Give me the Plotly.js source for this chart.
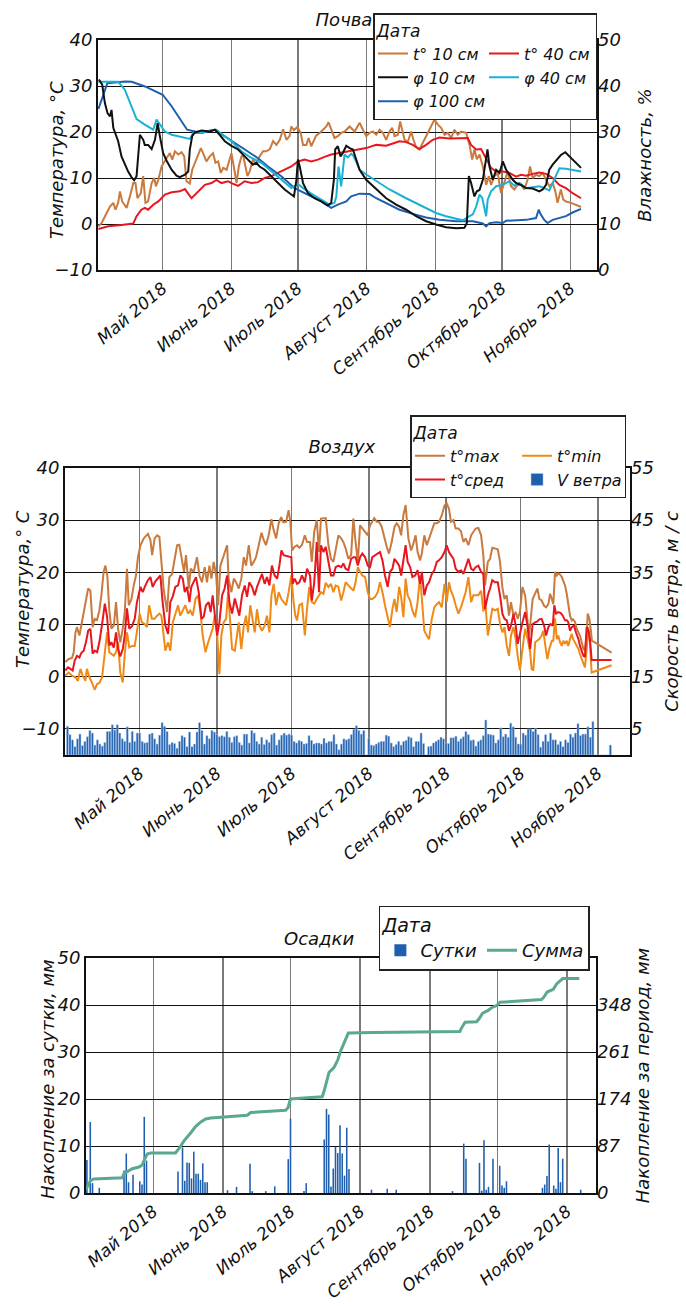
<!DOCTYPE html>
<html><head><meta charset="utf-8">
<script src="https://cdn.plot.ly/plotly-3.0.1.min.js"></script>
<style>
html,body{margin:0;padding:0;background:#fff;}
#wrap{position:relative;width:686px;height:1306px;overflow:hidden;background:#fff;}
.chart{position:absolute;left:0;width:686px;}
</style></head><body>
<div id="wrap">
<div id="soil" class="chart" style="top:0;height:400px"></div>
<div id="air" class="chart" style="top:400px;height:480px"></div>
<div id="rain" class="chart" style="top:880px;height:426px"></div>
</div>
<script>
// ---------- shared ----------
const SEASON_START = '2018-04-01';            // day 0 of all day arrays
const monthStarts = ['2018-05-01','2018-06-01','2018-07-01','2018-08-01','2018-09-01','2018-10-01','2018-11-01'];
const monthLabels = ['Май 2018','Июнь 2018','Июль 2018','Август 2018','Сентябрь 2018','Октябрь 2018','Ноябрь 2018'];

// ---------- Почва (soil) ----------
const soilT10Days = [1,2.4,4.7,6.2,7.7,8.7,9.9,10.7,11.7,13.7,15.2,16.7,17.7,18.6,20.1,21.2,22.2,23.4,25,26.2,26.9,28,29.5,30.7,31.7,33.2,34.3,35.5,37,38.5,39.7,40.7,42.2,43.3,44.5,46,47.2,48.2,49.7,51.2,52.7,53.8,55,56.2,57.3,58.8,60.3,61,62.3,63.3,64.3,65.5,66.2,67.3,68.2,69.2,70.7,72.2,73.7,75.2,76.7,78.3,79.8,81.3,82.8,84.3,85.8,87.2,88,89.2,90.7,92.2,93.3,94.8,95.8,97,98.2,99.2,100.8,102.3,103.8,104.8,106,107.5,109,110.5,112.1,114.3,116.6,118.8,120.3,121.8,123.3,124.8,126.3,127.8,129.3,130.8,132.3,133.5,134.6,136.1,137.1,138,139.1,140.6,142.1,143.1,144.3,145.8,147.3,148.8,150.3,151.8,152.6,154.1,155.6,157.1,158.6,160.1,161.6,163.1,164.6,166.9,168.4,169.6,170.6,171.7,172.9,174.4,175.9,177.1,178.1,179.6,181.1,182.6,184.1,185.6,187.1,188.6,190.1,191.6,193.1,194.6,195.7,196.9,198.4,199.9,201.4,202.9,204.4,205.9,207.1,208.1,209.6,210.7,211.9,214.2,216.4,218.7];
const soilT10 = [-0.5,0.2,2.4,3.8,4.6,3.1,4.6,7.1,4.9,3.5,6.0,8.9,8.9,5.6,6.7,10.4,4.6,4.9,8.9,10.0,8.2,9.6,12.5,13.6,14.3,15.4,14.0,15.8,15.1,15.6,14.7,9.3,8.8,11.8,13.3,15.4,16.5,15.4,13.6,14.7,15.4,13.3,13.6,11.1,12.2,11.8,14.0,15.4,11.8,8.9,12.5,14.7,15.1,12.5,10.4,11.4,14.0,12.9,14.7,15.8,15.8,16.3,18.0,17.2,18.3,20.6,18.3,19.1,21.2,20.4,21.1,19.8,17.2,17.2,18.7,16.9,18.3,19.2,19.8,20.5,21.2,22.1,20.5,18.7,19.1,19.8,20.1,21.2,20.1,22.0,20.5,19.1,19.8,20.1,19.4,20.5,19.8,18.3,20.1,20.9,19.1,19.4,22.3,20.5,18.3,17.9,20.1,18.3,16.7,16.2,17.6,19.1,20.5,22.0,22.7,21.6,20.9,19.4,19.8,18.7,20.5,19.4,20.1,19.8,17.2,14.0,16.2,14.1,15.1,12.5,8.5,10.4,8.5,10.4,11.1,6.7,9.3,11.4,8.2,7.5,8.5,8.5,7.5,9.6,12.5,10.0,10.7,10.4,11.1,9.6,8.2,8.9,7.1,4.6,7.5,5.3,4.9,4.6,4.2,3.7];

const soilT40Days = [1,5.4,11.4,16.7,18.2,20.4,21.9,23.4,25.7,28,31,34,37.7,40,43,46,49,52,54.2,56.5,59.5,61,64,67,70,73,76,79,82,85,88,91,94,97,100,103,106,109,114.3,118.8,121.8,126.3,130.8,133.8,136.8,139.8,142.8,145.8,148.8,151.8,154.8,159.3,163.9,167.6,169.1,171.4,173.6,175.9,178.1,180.4,183.4,186.4,189.4,191.6,193.9,196.9,199.9,202.9,205.9,208.9,211.9,214.9,218.7];
const soilT40 = [-1.1,-0.5,-0.2,0.1,1.7,3.1,3.5,3.1,4.2,4.9,6.4,6.9,7.1,7.6,5.6,7.1,8.5,8.9,9.6,8.9,9.3,8.9,8.3,9.3,8.9,9.1,10.0,10.4,11.1,11.9,12.5,13.6,14.0,13.6,14.0,14.6,15.1,15.4,15.8,16.3,16.5,17.2,17.0,17.5,18.0,17.8,17.2,16.3,17.2,18.3,18.8,18.6,18.7,18.7,17.2,16.2,16.3,14.3,12.2,11.4,11.4,11.1,10.3,10.7,10.5,10.9,11.2,10.9,10.0,8.5,7.8,6.7,5.6];

const soilPhi10Days = [1.2,2.7,3.9,5.1,6.2,6.9,7.7,8.4,9.9,11.4,12.9,14.4,15.9,17.1,18.2,18.9,19.7,21.2,21.9,23.4,25,26.5,27.7,28.7,30.2,31.7,34,36.2,37.7,40,41.5,42.2,43.3,44.5,47.5,51.2,53.5,55.7,58,61,64,67,69.2,70.7,72.2,73.7,76,79,82,85,88,89.2,90.3,91,91.8,93.3,95.5,98.5,101.5,104.5,106,107.2,107.8,109,110.2,111.3,112.8,114.3,115.8,117.3,118.8,121.8,126.3,130.8,135.3,139.8,144.3,148.8,153.3,157.8,162.4,166.1,167.2,168.1,169.1,170.6,171.7,172.9,174.4,175.6,176.5,177.4,178.9,180.4,181.9,183.4,184.9,186.4,187.9,189.4,191.6,193.9,196.9,199.9,201.4,202.9,204.4,205.9,208.1,209.6,211.6,213.4,216.4,218.7];
const soilPhi10 = [41.4,40.3,36.3,34.1,33.4,34.8,30.9,30.1,28.0,24.7,22.9,21.4,20.2,19.5,20.4,25.4,29.4,28.3,27.2,27.2,26.3,28.3,31.9,29.1,25.4,23.8,21.8,20.5,20.2,20.7,21.4,26.1,29.1,29.9,30.3,30.1,30.5,29.4,28.0,27.0,26.2,24.7,23.6,22.9,23.3,22.5,21.8,20.4,18.9,17.5,16.4,16.0,19.6,24.0,22.5,18.9,16.7,15.6,14.9,14.0,14.6,19.6,26.2,26.9,24.7,25.5,27.0,26.5,26.2,24.0,21.8,19.6,17.5,15.6,14.2,13.1,11.7,10.6,9.9,9.3,9.1,9.2,10.2,20.4,18.9,16.0,17.1,17.4,19.6,23.2,26.2,22.5,19.6,21.8,21.1,23.6,21.8,20.7,19.6,18.9,18.5,17.8,17.7,17.1,17.5,18.5,21.8,22.9,24.3,25.0,25.6,24.7,23.3,22.2];

const soilPhi40Days = [1,9.9,12.9,15.9,18.2,21.9,25.7,27.2,28.7,31,34,38.5,42.2,43.7,47.5,50.5,54.2,56.5,61,65.5,69.2,74.5,79,83.5,88,91,93.3,97,101.5,105.3,107.5,108.3,109.3,110.5,112,113.5,115,116,117.3,118.8,122,126.3,132.3,139.8,147.3,153.3,157.8,162.3,165.4,168.4,169.9,171.4,172.9,174.1,175.1,175.9,176.6,178.1,180.4,183.4,186.4,188.6,190.9,193.9,196.9,199.9,202.1,204.4,205.9,208.9,211.9,214.9,218.7];
const soilPhi40 = [40.9,40.9,39.2,35.6,32.8,31.6,30.5,32.7,31.6,30.1,29.4,28.9,28.5,29.8,29.8,30.3,30.5,29.6,28.0,25.8,24.6,23.3,21.4,19.6,17.8,18.7,17.8,16.6,15.3,14.2,14.6,16.0,22.5,18.2,25.1,24.5,25.3,24.8,23.5,21.8,20.7,19.3,17.5,15.6,13.8,12.4,11.7,11.1,10.8,11.7,12.1,13.8,16.4,15.7,13.2,11.7,15.3,17.1,18.2,18.5,19.3,18.3,18.9,17.8,18.0,18.2,17.8,17.3,18.9,22.1,22.0,21.8,21.4];

const soilPhi100Days = [1,5,13,16,22,28,30,34,38.5,41,44.5,47.5,53.5,55.7,61,67,73,77.5,83.5,89.5,95.5,101.5,106,109,112.8,115,118.8,123.3,126.3,130.8,136.8,142.8,148.8,154.8,162.4,169.9,174.4,175.9,177.4,180.4,183.4,184.9,193.9,198.4,199.6,200.6,202.1,203.6,205.9,211.9,214.9,218.7];
const soilPhi100 = [35.0,40.6,41.0,40.9,39.9,38.6,38.1,35.6,32.3,30.5,30.1,29.8,30.5,29.8,28.0,26.2,24.3,22.5,20.4,17.8,16.4,14.9,13.5,14.2,14.9,16.0,16.6,16.5,15.6,14.6,13.1,12.2,11.4,10.9,10.6,10.6,10.1,9.5,10.2,10.4,10.2,10.7,10.9,11.3,13.1,12.0,10.9,10.2,10.9,11.7,12.5,13.3];

// ---------- Воздух (air) ----------
const airMaxDays = [0.1,1.5,2.8,3.5,4.2,4.8,5.8,6.6,7.5,8.4,9.3,10.2,11.1,11.9,12.9,13.8,14.6,15.5,16.2,17.0,17.8,18.6,19.6,20.5,21.3,22.2,23.2,24.0,24.9,25.6,26.7,27.6,28.5,29.3,30.3,31.6,33.3,34.3,35.0,36.0,37.0,37.9,38.7,39.6,41.0,41.9,43.0,44.1,45.0,45.9,47.0,47.8,48.6,49.7,50.5,51.7,53.0,54.0,55.0,56.1,57.0,58.0,58.8,59.7,60.7,61.5,62.4,63.3,64.4,65.1,65.7,66.8,67.8,68.7,69.8,70.8,71.8,72.7,73.8,74.8,75.8,76.7,77.8,78.9,79.8,80.7,81.8,82.9,83.8,84.8,85.8,86.8,87.7,88.8,89.8,90.5,91.2,92.2,93.2,94.1,95.2,96.3,97.2,
 98.4,99.1,100.1,101.1,102.0,102.8,103.8,104.7,105.8,106.8,107.8,108.7,109.8,110.9,111.8,112.7,113.8,114.9,115.8,116.7,117.6,118.5,119.4,120.5,121.6,122.5,123.4,124.2,125.2,126.1,127.2,128.3,129.2,130.1,131.2,132.3,133.2,134.2,135.0,135.9,136.8,137.9,139.0,139.9,140.8,141.6,142.6,143.3,144.3,145.3,146.2,147.3,148.3,149.3,150.2,151.3,152.4,153.3,154.2,155.0,156.0,156.9,158.0,159.0,160.0,160.9,162.0,163.1,164.0,164.9,166.0,167.1,168.0,168.7,169.8,170.7,171.6,172.7,173.8,174.7,175.7,176.5,177.4,178.3,179.1,180.1,181.0,181.8,182.7,183.7,184.8,185.8,186.4,
 187.8,188.8,189.7,190.5,191.4,192.4,193.2,194.1,194.8,195.5,196.1,196.8,197.5,198.1,198.8,199.5,200.1,200.8,201.5,202.1,202.8,203.5,204.1,204.8,205.5,206.2,206.8,207.5,208.2,208.8,209.5,209.9,210.6,211.1,211.6,219.5];
const airMax = [2.8,3.4,3.6,4.7,8.5,9.5,7.9,10.1,12.4,14.9,16.9,16.5,9.5,11.1,10.9,12.7,15.6,20.1,21.3,19.4,12.7,9.2,9.8,14.3,9.2,6.6,9.2,12.4,20.7,13.7,14.9,17.5,19.4,22.9,25.2,26.5,27.4,26.2,23.3,26.5,27.1,26.8,22.0,16.9,12.4,19.1,19.7,22.6,25.2,25.3,22.0,20.1,23.3,16.9,20.7,20.1,22.9,19.4,18.1,21.0,18.1,21.3,18.8,22.0,19.4,13.7,21.3,22.6,23.9,25.2,18.8,16.2,18.8,18.1,16.9,18.8,22.9,21.3,25.2,21.3,22.0,22.9,25.2,27.6,26.2,25.2,27.1,30.2,28.1,26.5,29.4,30.6,29.6,29.7,31.9,29.7,24.2,24.9,25.2,24.7,25.3,27.1,25.8,
 25.8,22.0,27.8,30.0,23.9,30.3,30.4,30.4,25.2,22.6,22.0,24.6,27.1,26.5,25.8,24.6,22.6,23.3,30.3,25.8,22.0,29.0,28.4,27.8,27.1,29.0,29.8,30.4,29.7,29.7,28.7,26.5,24.9,23.6,25.8,28.7,29.4,28.7,27.1,31.0,32.9,26.5,24.2,25.5,27.1,23.9,22.3,23.6,27.1,25.2,26.5,28.1,29.4,29.4,29.7,30.9,32.8,33.2,32.2,29.7,30.0,28.4,28.4,27.9,25.8,26.5,25.2,27.1,27.8,28.4,28.5,27.1,23.3,17.5,22.0,22.6,24.7,24.6,24.4,22.0,16.9,14.9,15.6,11.7,14.3,11.7,12.4,11.1,12.4,17.2,15.6,10.4,7.9,
 14.9,15.9,16.9,14.9,14.6,13.6,13.3,13.9,15.9,14.9,13.9,20.1,19.4,19.8,19.6,19.1,18.3,17.5,15.9,13.7,11.7,10.8,11.0,10.5,9.2,8.5,7.9,6.6,5.3,5.0,7.9,12.1,11.1,9.2,6.9,4.6];

const airMidDays = [0.1,1.2,2.2,3.1,3.9,4.8,5.8,6.6,7.5,8.4,9.3,10.2,11.1,11.9,12.9,13.8,14.9,16.0,16.9,17.8,18.6,19.6,20.5,21.3,22.2,23.2,24.0,24.9,25.8,26.9,28.0,28.9,30.3,31.2,32.3,33.3,34.3,35.2,36.3,37.4,38.3,39.2,40.3,41.4,42.3,43.3,44.3,45.4,46.3,47.3,48.1,49.0,50.0,50.7,51.7,52.6,53.7,54.8,55.7,56.6,57.7,58.5,59.3,60.1,61.1,62.0,63.1,64.1,65.1,66.0,67.1,68.2,69.1,70.0,71.1,72.2,73.1,74.0,75.1,76.2,77.1,78.1,79.1,80.2,81.1,82.1,83.1,84.2,85.2,86.1,86.9,87.8,88.8,89.8,90.9,91.4,92.2,93.2,94.1,95.2,96.3,97.2,
 98.4,99.1,100.1,101.1,102.0,102.8,103.8,104.7,105.8,106.8,107.8,108.7,109.8,110.9,111.8,112.7,113.8,114.9,115.8,116.7,117.6,118.5,119.4,120.5,121.6,122.5,123.4,124.5,125.6,126.5,127.5,128.5,129.6,130.5,131.5,132.3,133.2,134.2,135.0,135.9,136.8,137.6,138.6,139.5,140.6,141.6,142.6,143.3,144.3,145.3,146.2,147.3,148.3,149.3,150.2,151.3,152.4,153.3,154.2,155.0,156.0,156.9,158.0,159.0,160.0,160.9,162.0,163.1,164.0,164.9,166.0,167.1,168.0,168.7,169.8,170.7,171.6,172.7,173.8,174.7,175.7,176.5,177.4,178.3,179.1,180.1,181.0,181.8,182.7,183.7,184.8,185.8,
 186.8,187.8,188.8,189.7,190.5,191.4,192.4,193.2,194.1,195.0,195.9,196.5,197.2,198.1,199.1,199.9,200.8,201.5,202.1,202.8,203.5,204.4,205.2,206.2,206.8,207.5,208.2,208.8,209.5,210.2,210.8,211.5,219.5];
const airMid = [1.2,1.8,1.5,1.2,3.1,4.0,3.7,4.6,5.0,6.6,8.8,9.2,4.4,5.0,4.7,6.6,10.1,14.0,11.5,6.0,6.6,5.6,8.5,5.3,3.9,5.3,7.9,13.1,9.2,9.7,11.1,14.3,17.2,16.2,17.5,18.5,19.1,17.2,18.3,18.8,19.4,14.3,9.8,8.2,14.3,15.4,17.2,17.5,19.4,18.8,16.2,17.2,14.3,17.2,18.1,19.1,16.2,11.1,11.5,13.7,14.3,12.4,15.6,11.7,7.9,10.4,15.6,16.9,19.4,14.3,12.1,15.0,13.1,11.7,15.6,17.5,15.3,18.1,17.2,15.6,17.2,18.5,19.7,17.8,19.1,17.5,21.3,19.4,18.8,21.3,24.2,23.3,23.2,23.0,22.9,17.8,18.8,17.8,18.1,19.4,18.1,20.7,
 19.4,14.6,18.1,25.8,16.2,25.2,23.9,24.9,22.0,19.4,19.4,21.0,21.3,21.0,21.7,20.7,20.4,22.6,22.9,22.9,21.3,22.9,23.6,22.9,21.3,21.0,22.9,23.3,23.6,23.9,22.3,19.4,17.2,20.1,20.7,22.6,22.0,21.3,19.4,22.6,25.2,22.0,21.0,19.1,19.4,20.4,17.8,20.1,15.6,17.5,18.1,19.7,20.4,22.0,22.3,22.9,23.9,25.2,23.9,23.3,22.6,20.7,20.1,20.4,19.7,21.0,22.6,20.7,20.4,21.0,21.3,20.1,19.7,13.0,15.6,16.9,18.5,18.1,18.1,15.6,12.0,11.1,10.8,8.8,9.8,12.0,9.8,6.3,8.5,10.4,12.4,9.5,
 5.3,10.1,10.4,10.6,11.0,11.1,9.8,7.9,9.5,10.1,9.8,13.7,12.1,12.4,12.2,11.7,10.8,10.8,10.5,8.8,9.5,9.8,8.5,7.2,5.9,4.7,4.0,3.8,9.5,8.8,7.2,3.2,3.2];

const airMinDays = [0.1,1.5,2.8,4.2,5.2,6.2,7.1,8.2,8.8,9.8,10.8,11.9,12.9,13.8,14.9,16.0,16.9,17.8,18.6,19.6,20.5,21.3,22.2,23.2,24.0,24.9,25.8,26.9,28.0,28.9,30.0,30.9,32.0,32.9,33.8,34.9,36.0,37.0,37.9,38.7,39.6,40.3,41.4,42.3,43.3,44.3,45.4,46.3,47.3,48.3,49.4,50.3,51.3,52.4,53.4,54.4,55.3,56.4,57.5,58.4,59.3,60.1,61.1,62.0,62.8,63.7,64.7,65.5,66.4,67.1,68.2,69.1,69.8,70.8,71.8,72.7,73.5,74.4,75.4,76.2,77.1,78.1,79.1,80.2,81.1,82.1,82.9,83.8,84.8,85.8,86.9,87.8,88.8,89.8,90.9,91.8,92.5,93.2,94.1,95.2,96.3,97.2,98.1,
 99.1,100.1,101.1,102.0,102.8,103.8,104.7,105.8,106.8,107.8,108.7,109.8,110.9,111.8,112.7,113.8,114.9,115.8,116.7,117.6,118.5,119.4,120.5,121.6,122.5,123.4,124.5,125.6,126.5,127.5,128.5,129.6,130.5,131.5,132.3,133.2,134.2,135.0,135.9,136.8,137.6,138.6,139.5,140.6,141.6,142.6,143.3,144.3,145.3,146.2,147.3,148.3,149.3,150.2,151.3,152.4,153.3,154.2,155.0,156.0,156.9,158.0,159.0,160.0,160.9,162.0,163.1,164.0,164.9,166.0,167.1,168.0,169.0,169.8,170.7,171.6,172.7,173.8,174.7,175.7,176.5,177.4,178.3,179.1,180.1,181.0,181.8,182.7,183.7,184.8,185.8,
 186.8,187.4,188.1,188.8,189.7,190.5,191.4,192.1,192.8,193.7,194.5,195.5,196.1,196.8,197.5,198.1,198.8,199.5,200.1,200.8,201.5,202.1,202.8,203.5,204.1,204.8,205.5,206.2,206.8,207.5,208.2,208.8,209.5,210.2,210.8,211.5,219.5];
const airMin = [0.2,0.8,0.2,-0.1,-0.8,1.5,0.2,-0.8,1.5,-0.1,-1.1,-2.5,-1.4,-1.2,-0.1,4.7,8.5,4.7,4.4,4.0,4.7,6.6,0.8,-1.1,4.4,8.5,5.6,5.9,5.9,8.5,12.1,10.4,10.1,9.5,13.7,11.1,11.1,11.7,12.1,11.7,7.6,5.0,6.6,5.0,10.4,12.1,13.7,11.7,12.7,13.7,12.1,12.7,11.7,14.9,15.6,12.4,7.9,4.7,6.6,7.9,9.2,11.7,8.2,0.5,7.9,10.4,11.1,16.2,9.2,5.3,5.0,7.9,10.4,5.3,9.8,11.7,8.5,13.7,10.4,8.5,12.9,9.8,8.8,9.8,11.7,8.5,15.6,17.8,13.7,16.2,14.9,14.3,13.7,16.2,19.4,14.3,11.7,10.8,13.7,14.0,7.9,13.0,17.2,
 14.3,14.0,14.9,15.6,16.2,15.9,18.0,17.2,17.8,16.2,17.5,17.2,14.6,16.2,18.1,17.5,16.9,16.5,18.1,21.0,20.1,19.4,19.1,16.2,14.9,14.9,15.3,16.2,18.1,16.2,13.7,11.7,9.5,13.0,14.9,12.4,17.2,15.3,11.4,18.8,15.6,14.6,12.7,11.4,14.3,19.4,14.3,8.8,7.9,7.2,11.1,13.3,13.9,14.3,13.3,17.8,14.3,18.1,16.5,15.3,13.7,12.1,13.3,14.9,16.2,19.1,14.3,15.6,15.6,15.6,16.5,12.7,13.0,7.9,10.4,13.0,12.7,13.0,10.1,8.5,9.5,6.0,4.0,7.9,9.5,7.2,4.0,1.2,5.3,9.2,7.2,
 4.7,1.5,1.2,6.6,6.9,7.2,7.9,8.8,6.3,3.4,5.3,6.9,6.9,11.2,7.2,7.9,6.6,5.9,6.9,6.3,6.9,5.9,7.2,8.2,7.2,6.6,5.9,5.3,4.3,3.4,2.4,1.8,5.3,9.5,6.6,0.8,2.2];

// daily wind speed, m/s, consecutive days starting at windFirstDay (0 = no record)
const windFirstDay = 1;
const windSpeed = [5.5,3.9,2.9,1.6,3.1,4.0,1.8,2.6,3.5,4.7,4.2,1.9,2.9,2.1,1.7,2.4,4.5,4.5,5.8,4.8,5.8,4.2,3.1,2.6,5.4,2.4,4.5,2.6,4.2,4.2,2.6,2.3,2.4,4.0,4.2,3.1,2.1,3.8,6.2,5.5,4.5,2.0,2.4,2.2,1.3,2.6,3.7,3.4,1.6,4.4,1.6,2.1,4.4,6.2,4.7,2.1,3.7,3.1,4.7,4.4,3.9,3.5,3.7,3.5,4.5,3.4,2.4,3.5,3.7,2.4,1.9,4.0,4.0,2.3,4.7,4.2,2.6,2.1,3.4,2.0,2.9,2.4,3.9,4.2,1.9,2.9,3.8,4.2,3.8,4.0,3.8,2.6,2.3,2.8,2.6,2.1,2.2,3.7,2.8,2.1,2.3,2.3,2.1,3.2,2.3,2.6,2.6,3.9,2.1,1.0,2.1,3.1,2.9,
 3.1,3.9,4.9,5.6,4.7,4.0,4.7,0,3.2,1.9,1.8,2.1,2.4,2.6,2.6,3.8,3.6,2.3,1.6,2.0,2.6,1.9,2.6,2.8,3.5,3.3,1.6,2.6,2.6,4.2,2.2,0,1.6,1.7,2.3,2.6,2.9,3.4,3.1,2.3,2.2,3.3,3.3,3.6,2.6,3.1,3.5,4.5,3.9,2.8,2.9,1.7,2.6,2.9,3.7,6.7,4.0,3.9,3.8,2.3,2.9,5.2,3.5,4.0,3.4,6.1,5.4,3.4,2.1,2.1,4.2,3.8,5.0,5.0,4.5,5.1,3.9,1.5,2.6,3.9,2.6,4.2,2.9,2.9,2.0,2.6,1.6,2.9,2.4,4.0,3.4,4.2,6.0,3.7,4.0,4.0,5.4,3.4,6.4,
 0,0,0,0,0,0,1.9];

// ---------- Осадки (precipitation) ----------
const rainDays = [0.5,2,3,6,17,18,19,21,24,25,26,27,41,43,44,45,46,47,48,49,50,51,52,53,54,63,67,73,74,80,84,90,91,97,98,106,107,108,109,110,111,112,113,114,115,116,117,127,134,138,163,168,169,175,176,177,178,179,181,184,185,186,187,203,204,205,206,208,209,210,211,212,220];
const rainDaily = [7.0,15.1,2.1,1.1,4.8,8.4,2.3,3.9,2.5,1.8,16.2,6.9,4.6,9.7,2.6,6.5,6.4,3.1,8.8,4.1,4.1,2.8,6.3,2.3,2.3,0.6,1.3,6.2,0.4,0.4,1.4,7.2,15.8,0.4,2.1,11.4,17.9,16.7,1.4,5.2,9.8,8.5,14.4,8.4,3.7,13.9,5.1,0.7,0.9,0.7,0.4,10.5,7.3,6.4,0.5,11.2,0.7,1.3,7.3,5.8,1.6,1.1,2.5,1.1,1.8,3.6,10.3,1.6,0.9,9.6,2.3,7.3,0.7];
const rainSumDays = [0,1,2.1,3.6,8.1,14,16.2,17,18.4,20.7,23.6,25.1,26.1,27.3,28.8,39.9,41.4,43.6,46.6,48.8,51,53.3,55.5,61.4,67.3,71.8,73.3,79.2,85.1,88.8,89.9,91,97,105.1,106.1,108.1,110.3,112.1,113.3,114.8,116.7,127.8,142.6,166.3,167.1,168.6,173.7,174.9,176.4,178.9,180.4,182.6,184.1,190,202.6,203.7,205.1,207.8,209.3,212,219.4];
const rainSum = [6,15,23,26,27,27,28,36,40,45,48,52,62,72,74,74,82,96,111,123,131,137,139,141,142,144,149,151,152,153,158,174,176,178,191,223,232,247,263,278,296,297,298,299,306,316,317,323,333,338,343,347,353,355,358,363,372,377,387,397,397];
const rainRightTicks = [0,87,174,261,348];

// ---------- helpers ----------
const START_MS = Date.parse(SEASON_START + 'T00:00:00Z');
function day(n){ return new Date(START_MS + n*86400000).toISOString().slice(0,19).replace('T',' '); }
const DAY_MS = 86400000;

const FONT = {family:'DejaVu Sans, sans-serif', size:18, color:'#111', style:'italic'};
const XFONT = Object.assign({}, FONT, {size:17});
const LFONT = Object.assign({}, FONT, {size:16});
const LINE = '#111';

function xAxis(r0, r1){
  return {type:'date', range:[day(r0), day(r1)], tickmode:'array', tickvals:monthStarts, ticktext:monthLabels,
    tickangle:-40, tickfont:XFONT, showgrid:true, gridcolor:'#7a7a7a', gridwidth:1.5,
    showline:true, mirror:true, linecolor:LINE, linewidth:2, zeroline:false, ticks:'', fixedrange:true};
}
function yLeft(range){
  return {range:range, dtick:10, tick0:0, tickfont:FONT, showgrid:true, gridcolor:'#111', gridwidth:1,
    showline:true, mirror:true, linecolor:LINE, linewidth:2, zeroline:false, ticks:'', fixedrange:true};
}
function yRight(range, title, standoff, extra){
  return Object.assign({overlaying:'y', side:'right', range:range, tickfont:FONT, showgrid:false, showline:false,
    zeroline:false, ticks:'', fixedrange:true, title:{text:title, font:FONT, standoff:standoff}}, extra||{});
}
function leftTitle(text, x, y){
  return {text:text, xref:'paper', yref:'paper', x:x, y:y, xanchor:'center', yanchor:'middle',
    textangle:-90, showarrow:false, font:FONT};
}
function legend(x, y, font, extra){
  return Object.assign({orientation:'h', x:x, xanchor:'right', y:y, yanchor:'bottom',
    bgcolor:'#fff', bordercolor:'#222', borderwidth:1.5, font:font,
    title:{text:'Дата', font:Object.assign({}, font, {size:font.size+1}), side:'top'}}, extra||{});
}
function baseLayout(h, m, title){
  return {width:686, height:h, paper_bgcolor:'#fff', plot_bgcolor:'#fff', font:FONT, hovermode:false, showlegend:true,
    margin:Object.assign({pad:0, autoexpand:false}, m), title:title};
}
function line(days, vals, name, color, axis, group, rank, w){
  return {type:'scatter', mode:'lines', x:days.map(day), y:vals, name:name, yaxis:axis,
    line:{color:color, width:w||2}, legendgroup:group, legendrank:rank, hoverinfo:'skip'};
}
const CFG = {staticPlot:true, displayModeBar:false};

// ---------- chart 1: Почва ----------
Plotly.newPlot('soil', [
  line(soilT10Days, soilT10, 't° 10 см', '#c97a3e', 'y', 'c1', 1),
  line(soilT40Days, soilT40, 't° 40 см', '#e8161f', 'y', 'c2', 2),
  line(soilPhi100Days, soilPhi100, 'φ 100 см', '#1f5fae', 'y2', 'c1', 5),
  line(soilPhi40Days, soilPhi40, 'φ 40 см', '#19b2d6', 'y2', 'c2', 4),
  line(soilPhi10Days, soilPhi10, 'φ 10 см', '#111111', 'y2', 'c1', 3)
], Object.assign(baseLayout(400, {l:98, r:89, t:40, b:130},
    {text:'Почва', font:FONT, x:0.493, xref:'paper', xanchor:'center', y:0.95, yref:'container', yanchor:'middle'}), {
  xaxis: xAxis(0.8, 225.9),
  yaxis: yLeft([-10,40]),
  yaxis2: yRight([0,50], 'Влажность, %', 18, {dtick:10, tick0:0}),
  legend: legend(1.0, 0.652, LFONT, {traceorder:'grouped', entrywidth:66, entrywidthmode:'pixels'}),
  annotations: [leftTitle('Температура, °C', (56-98)/499, 0.478)]
}), CFG);

// ---------- chart 2: Воздух ----------
Plotly.newPlot('air', [
  line(airMaxDays, airMax, 't°max', '#c97a3e', 'y', 'c1', 1),
  line(airMinDays, airMin, 't°min', '#f08a17', 'y', 'c2', 2),
  line(airMidDays, airMid, 't°сред', '#e8161f', 'y', 'c1', 3),
  {type:'bar', x:windSpeed.map((v,i)=>day(windFirstDay+i)), y:windSpeed, yaxis:'y2', name:'V ветра',
   width:0.8*DAY_MS, marker:{color:'#1f5fae', line:{color:'#a8c7ea', width:0.5}},
   legendgroup:'c2', legendrank:4, hoverinfo:'skip'}
], Object.assign(baseLayout(480, {l:65, r:56, t:68, b:125},
    {text:'Воздух', font:FONT, x:0.49, xref:'paper', xanchor:'center', y:1-47/480, yref:'container', yanchor:'middle'}), {
  xaxis: xAxis(0, 226.9),
  yaxis: yLeft([-15,40]),
  yaxis2: yRight([0,55], 'Скорость ветра, м / с', 12, {dtick:10, tick0:5}),
  legend: legend(0.993, 0.895, LFONT, {traceorder:'grouped', entrywidth:62, entrywidthmode:'pixels'}),
  annotations: [leftTitle('Температура,° С', (22-65)/565, 0.578)]
}), CFG);

// ---------- chart 3: Осадки ----------
Plotly.newPlot('rain', [
  {type:'bar', x:rainDays.map(day), y:rainDaily, yaxis:'y', name:'Сутки', width:0.7*DAY_MS,
   marker:{color:'#1f5fae', line:{width:0}}, legendrank:1, hoverinfo:'skip'},
  line(rainSumDays, rainSum, 'Сумма', '#5aa88f', 'y2', undefined, 2, 3)
], Object.assign(baseLayout(426, {l:86, r:90, t:78, b:113},
    {text:'Осадки', font:FONT, x:0.457, xref:'paper', xanchor:'center', y:1-59/426, yref:'container', yanchor:'middle'}), {
  xaxis: xAxis(0.1, 226.8),
  yaxis: yLeft([0,50]),
  yaxis2: yRight([0,435], 'Накопление за период, мм', 6, {tickmode:'array', tickvals:rainRightTicks}),
  legend: legend(0.988, 0.945, FONT, {traceorder:'normal'}),
  annotations: [leftTitle('Накопление за сутки, мм', (47-86)/510, 0.485)]
}), CFG);
</script>
</body></html>
